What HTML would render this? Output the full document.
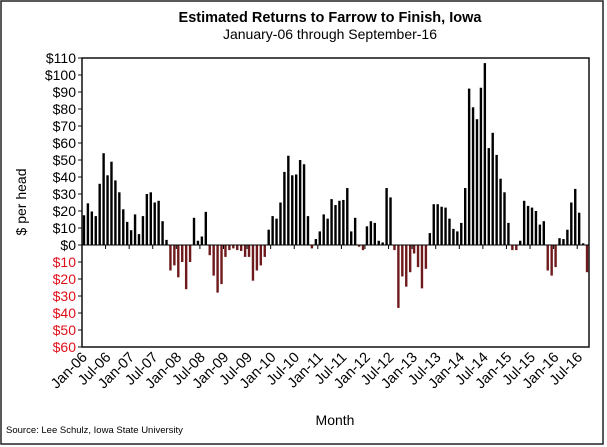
<!DOCTYPE html>
<html><head><meta charset="utf-8"><style>
body{margin:0;background:#fff;}
svg{display:block;font-family:"Liberation Sans",Arial,sans-serif;}
</style></head><body>
<svg id="chart" width="607" height="447" viewBox="0 0 607 447">
<rect x="1" y="1" width="602" height="443" fill="#fff" stroke="#222" stroke-width="1.5"/>
<text x="330" y="22" text-anchor="middle" font-size="14.5" font-weight="bold">Estimated Returns to Farrow to Finish, Iowa</text>
<text x="330" y="39" text-anchor="middle" font-size="14">January-06 through September-16</text>
<text transform="translate(26,202) rotate(-90)" text-anchor="middle" font-size="14">$ per head</text>
<text x="335" y="425" text-anchor="middle" font-size="14">Month</text>
<text x="6" y="433" font-size="9.5">Source: Lee Schulz, Iowa State University</text>
<rect x="82" y="58" width="507" height="289" fill="none" stroke="#111" stroke-width="1.5"/>
<g id="yaxis"></g><g id="bars"></g><g id="xaxis"></g>
</svg>
<script>
const values = [17.5,24.5,19.7,17,36,54,41,49,38,31,21,13.6,8.7,18,6.4,17,30,31,25,26,14,3,-15,-12,-19,-10,-26,-10,16,2.5,5,19.5,
-6,-18,-28,-23,-7,-3,-2,-3,-3.5,-7,-7,-21,-15,-12,-7,9,17,15.5,25,43,52.5,41,41.5,50,47.5,17,-2,3.5,8,18,15.5,27,23.5,26,26.5,33.5,8,16,-1,-3,11,14,13,2.5,1.5,33.5,28,-3,-37,
-18.5,-24.5,-16,-5,-13,-25.5,-14,7,24,24,22.5,22,15.5,9.5,8,13,33.5,92,81,74,92.5,107,57,66,53,39,31,13,-3,-3,2.5,26,23,22,20,12,14,-15,-18,-13,4,3.5,9,25,33,19,1,-16];
const tickValues = [110,100,90,80,70,60,50,40,30,20,10,0,-10,-20,-30,-40,-50,-60];
const tickLabels = ["$110","$100","$90","$80","$70","$60","$50","$40","$30","$20","$10","$0","$10","$20","$30","$40","$50","$60"];
const monthLabels = ["Jan-06","Jul-06","Jan-07","Jul-07","Jan-08","Jul-08","Jan-09","Jul-09","Jan-10","Jul-10","Jan-11","Jul-11","Jan-12","Jul-12","Jan-13","Jul-13","Jan-14","Jul-14","Jan-15","Jul-15","Jan-16","Jul-16"];

const NS="http://www.w3.org/2000/svg";
const X0=82,X1=589,Y0=58,Y1=347,VMAX=110,VMIN=-60;
const step=(X1-X0)/values.length;
function y(v){return Y0+(VMAX-v)/(VMAX-VMIN)*(Y1-Y0);}
function xc(i){return X0+step*(i+0.5);}
function mk(tag,attrs,parent){const e=document.createElementNS(NS,tag);for(const k in attrs)e.setAttribute(k,attrs[k]);parent.appendChild(e);return e;}

const ya=document.getElementById('yaxis');
tickValues.forEach((v,i)=>{
  const t=mk('text',{x:76,y:y(v)+5,'text-anchor':'end','font-size':14,fill:v<0?'#e0101a':'#000'},ya);
  t.textContent=tickLabels[i];
  
  
  const l=mk('line',{x1:78,x2:82,y1:y(v),y2:y(v),stroke:'#111'},ya);
  
  
});

const bg=document.getElementById('bars');
values.forEach((v,i)=>{
  const top=Math.min(y(v),y(0)),h=Math.abs(y(v)-y(0));
  const r=mk('rect',{x:xc(i)-1.2,y:top,width:2.4,height:h,fill:v<0?'#6e1a1c':'#000'},bg);
  
  
});

const xa=document.getElementById('xaxis');
const z=mk('line',{x1:X0,x2:X1,y1:y(0),y2:y(0),stroke:'#000','stroke-width':1},xa);


monthLabels.forEach((m,i)=>{
  const tx=X0+step*6*i;
  if(i>0){const tk=mk('line',{x1:tx,x2:tx,y1:y(0),y2:y(0)+4,stroke:'#000'},xa);
  
  }
  const t=mk('text',{x:0,y:0,'text-anchor':'end','font-size':14.5,transform:`translate(${tx+6},${358}) rotate(-45)`},xa);
  t.textContent=m;
  
  
});
</script>
</body></html>
